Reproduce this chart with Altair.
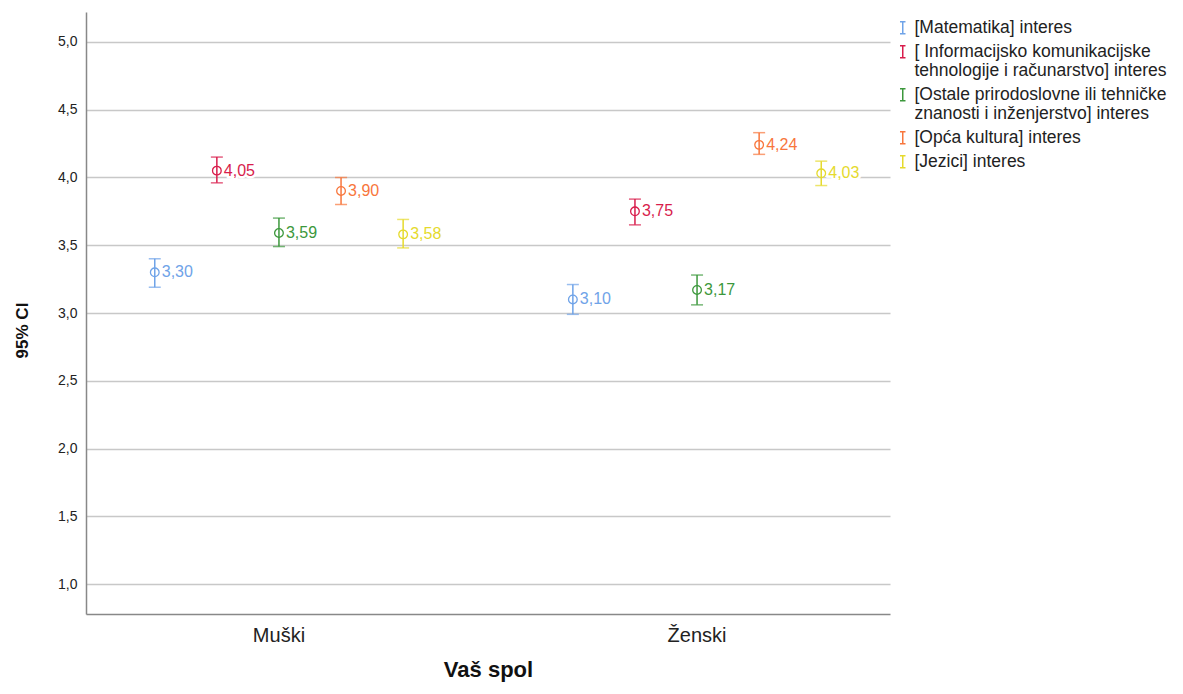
import altair as alt
import pandas as pd

groups = ["Muški", "Ženski"]
series = [
    "[Matematika] interes",
    "[ Informacijsko komunikacijske|tehnologije i računarstvo] interes",
    "[Ostale prirodoslovne ili tehničke|znanosti i inženjerstvo] interes",
    "[Opća kultura] interes",
    "[Jezici] interes",
]
colors = ["#6fa3e8", "#d81d4c", "#3c983c", "#f8763c", "#e5da2c"]

means_m = [3.30, 4.05, 3.59, 3.90, 3.58]
low_m = [3.19, 3.96, 3.49, 3.80, 3.48]
high_m = [3.40, 4.15, 3.70, 4.00, 3.69]
means_z = [3.10, 3.75, 3.17, 4.24, 4.03]
low_z = [2.99, 3.65, 3.06, 4.17, 3.94]
high_z = [3.21, 3.84, 3.28, 4.33, 4.12]

rows = []
for g, means, lows, highs in [(groups[0], means_m, low_m, high_m), (groups[1], means_z, low_z, high_z)]:
    for s, m, lo, hi in zip(series, means, lows, highs):
        rows.append({"spol": g, "serija": s, "mean": m, "low": lo, "high": hi,
                     "lab": f"{m:.2f}".replace(".", ",")})
df = pd.DataFrame(rows)

FONT = "Liberation Sans"

x = alt.X("spol:N", sort=groups,
          scale=alt.Scale(paddingInner=0.1, paddingOuter=0.0115),
          axis=alt.Axis(title="Vaš spol", labelAngle=0, labelFontSize=20, labelColor="#222",
                        labelPadding=11, ticks=False, titleFontSize=22, titleFontWeight="bold",
                        titlePadding=14, titleColor="#111", domainColor="#888",
                        domainWidth=1.5, grid=False, labelFont=FONT, titleFont=FONT))
xo = alt.XOffset("serija:N", sort=series, scale=alt.Scale(paddingInner=0, paddingOuter=0.53))
yscale = alt.Scale(domain=[0.78, 5.22], nice=False, zero=False)
y = alt.Y("mean:Q", scale=yscale,
          axis=alt.Axis(title="95% CI", values=[1, 1.5, 2, 2.5, 3, 3.5, 4, 4.5, 5],
                        labelExpr="replace(format(datum.value, '.1f'), '.', ',')",
                        labelFontSize=14, labelColor="#222", labelPadding=9, ticks=False,
                        titleFontSize=17, titleFontWeight="bold", titleColor="#111",
                        titlePadding=26, titleY=318, domainColor="#888", domainWidth=1.5,
                        gridColor="#c8c8c8", gridWidth=1.5, labelFont=FONT, titleFont=FONT))
color_scale = alt.Scale(domain=series, range=colors)
legend = alt.Legend(title=None, orient="none", legendX=808, legendY=7, padding=0,
                    labelExpr="split(datum.label, '|')",
                    labelFontSize=17.5, labelFont=FONT, labelColor="#222", labelLimit=300,
                    labelOffset=3,
                    symbolType="M-0.45,-1H0.45M0,-1V1M-0.45,1H0.45", symbolSize=150,
                    symbolStrokeWidth=1.5, symbolFillColor="transparent", rowPadding=5)
col = alt.Color("serija:N", scale=color_scale, legend=legend, sort=series)

base = alt.Chart(df)

rule = base.mark_rule(strokeWidth=1.5).encode(x=x, xOffset=xo, y=alt.Y("low:Q", scale=yscale), y2="high:Q", color=col)
cap_lo = base.mark_tick(thickness=1.5, size=12).encode(x=x, xOffset=xo, y=alt.Y("low:Q", scale=yscale), color=col)
cap_hi = base.mark_tick(thickness=1.5, size=12).encode(x=x, xOffset=xo, y=alt.Y("high:Q", scale=yscale), color=col)
pts = base.mark_point(shape="circle", filled=False, size=75, strokeWidth=1.3, opacity=1).encode(x=x, xOffset=xo, y=y, color=col)
halo = base.mark_text(align="left", baseline="middle", dx=7, fontSize=16, font=FONT,
                      stroke="white", strokeWidth=5).encode(x=x, xOffset=xo, y=y, text="lab:N", color=col)
txt = base.mark_text(align="left", baseline="middle", dx=7, fontSize=16, font=FONT).encode(
    x=x, xOffset=xo, y=y, text="lab:N", color=col)

chart = alt.layer(halo, rule, cap_lo, cap_hi, pts, txt).properties(
    width=804, height=602,
    autosize=alt.AutoSizeParams(type="none"),
    padding={"left": 78, "top": 4, "right": 285, "bottom": 72},
).configure_view(strokeWidth=0)

chart.save("out.html", embed_options={"renderer": "svg", "actions": False})
